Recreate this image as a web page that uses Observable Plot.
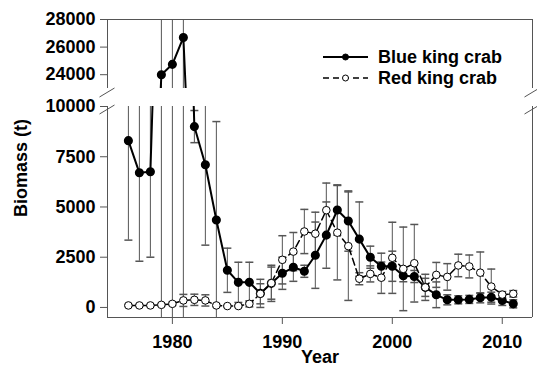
<!DOCTYPE html>
<html><head><meta charset="utf-8">
<script src="https://cdn.jsdelivr.net/npm/d3@7"></script>
<script src="https://cdn.jsdelivr.net/npm/@observablehq/plot@0.6"></script>
<style>
body{margin:0;background:#fff;}
#chart{position:relative;width:537px;height:368px;overflow:hidden;font-family:"Liberation Sans",Arial,sans-serif;}
#chart svg{position:absolute;left:0;overflow:visible;}
</style></head><body><div id="chart"></div>
<script>
const years = [1976,1977,1978,1979,1980,1981,1982,1983,1984,1985,1986,1987,1988,1989,1990,1991,1992,1993,1994,1995,1996,1997,1998,1999,2000,2001,2002,2003,2004,2005,2006,2007,2008,2009,2010,2011];
const blueBiomass = [8300,6700,6750,24000,24750,26700,9000,7100,4350,1850,1250,1250,700,1200,1700,2000,1800,2600,3600,4850,4300,3400,2500,2050,2050,1580,1540,1000,630,380,380,400,480,510,350,180];
const blueError = [4950,4400,4250,30000,30000,30000,800,4000,4900,1100,1000,1000,700,900,800,700,300,1650,1650,1250,1500,1850,550,650,750,300,300,650,640,250,200,200,250,250,250,200];
const redBiomass = [100,100,100,130,180,350,380,350,100,70,70,180,680,1210,2370,2780,3780,3670,4840,3720,3050,1430,1670,1480,2470,1920,2200,1000,1620,1520,2090,2040,1730,1040,640,680];
const redError = [50,50,50,60,80,300,280,280,60,50,50,150,500,800,1200,950,1100,1070,1350,2350,2700,300,400,780,1770,2080,1930,450,620,660,560,570,1030,870,150,160];
const seriesNames = ["Blue king crab", "Red king crab"];
const xTicks = [1980, 1990, 2000, 2010];
const upperTicks = [24000, 26000, 28000];
const lowerTicks = [0, 2500, 5000, 7500, 10000];
const xDomain = [1974.1, 2012.75];
const upperDomain = [23000, 28000];
const lowerDomain = [-500, 10000];

const blue = years.map((year, i) => ({year, series: seriesNames[0], value: blueBiomass[i], lo: blueBiomass[i] - blueError[i], hi: blueBiomass[i] + blueError[i]}));
const red = years.map((year, i) => ({year, series: seriesNames[1], value: redBiomass[i], lo: redBiomass[i] - redError[i], hi: redBiomass[i] + redError[i]}));
const rows = blue.concat(red);

const GRAY = "#555";
const FONT = '"Liberation Sans", Arial, sans-serif';
const capSymbol = {draw(ctx, size) { const w = Math.sqrt(size / Math.PI); ctx.moveTo(-w, 0); ctx.lineTo(w, 0); }};
const fmt = d => String(d);

const dataMarks = () => [
  Plot.ruleX(rows, {x: "year", y1: "lo", y2: "hi", stroke: GRAY, strokeWidth: 1, clip: true}),
  Plot.dot(rows, {x: "year", y: "lo", r: 4, symbol: capSymbol, stroke: GRAY, fill: "none", clip: true}),
  Plot.dot(rows, {x: "year", y: "hi", r: 4, symbol: capSymbol, stroke: GRAY, fill: "none", clip: true}),
  Plot.line(blue, {x: "year", y: "value", stroke: "black", strokeWidth: 2, clip: true}),
  Plot.dot(blue, {x: "year", y: "value", r: 3.8, fill: "black", stroke: "black", clip: true}),
  Plot.line(red, {x: "year", y: "value", stroke: "black", strokeWidth: 1.5, strokeDasharray: "7,4", clip: true}),
  Plot.dot(red, {x: "year", y: "value", r: 3.8, fill: "white", stroke: "black", strokeWidth: 1, clip: true})
];

const style = {fontSize: "18px", fontWeight: "bold", fontFamily: FONT, color: "black", background: "transparent"};

const topPlot = Plot.plot({
  width: 537, height: 100, marginLeft: 107, marginRight: 5, marginTop: 19, marginBottom: 12,
  style,
  x: {domain: xDomain, axis: null},
  y: {domain: upperDomain},
  marks: [
    Plot.axisY(upperTicks, {tickSize: 7, tickPadding: 5, tickFormat: fmt, label: null, stroke: GRAY, fill: "black"}),
    Plot.ruleX(xDomain, {stroke: GRAY}),
    Plot.ruleY([upperDomain[1]], {stroke: GRAY}),
    ...dataMarks()
  ]
});

const bottomPlot = Plot.plot({
  width: 537, height: 268, marginLeft: 107, marginRight: 5, marginTop: 6, marginBottom: 51,
  style,
  x: {domain: xDomain},
  y: {domain: lowerDomain},
  marks: [
    Plot.axisY(lowerTicks, {tickSize: 7, tickPadding: 5, tickFormat: fmt, label: null, stroke: GRAY, fill: "black"}),
    Plot.axisX(xTicks, {tickSize: 7, tickPadding: 11, tickFormat: fmt, label: null, stroke: GRAY, fill: "black"}),
    Plot.ruleX(xDomain, {stroke: GRAY}),
    Plot.ruleY([lowerDomain[0]], {stroke: GRAY}),
    Plot.text(["Year"], {text: d => d, frameAnchor: "bottom", lineAnchor: "middle", dy: 40, fill: "black"}),
    ...dataMarks()
  ]
});

const chart = document.getElementById("chart");
const BOTTOM_TOP = 100;
topPlot.style.top = "0px";
bottomPlot.style.top = BOTTOM_TOP + "px";
chart.appendChild(topPlot);
chart.appendChild(bottomPlot);

// overlay: axis title, legend, axis-break marks
const xr = topPlot.scale("x").range;
const topBottom = topPlot.scale("y").range[0];
const lowTop = BOTTOM_TOP + bottomPlot.scale("y").range[1];
const topAll = topPlot.scale("y").range[1];
const bottomAll = BOTTOM_TOP + bottomPlot.scale("y").range[0];

const svg = d3.select(chart).append("svg")
  .attr("width", 537).attr("height", 368)
  .style("top", "0px")
  .attr("font-family", FONT).attr("font-weight", "bold").attr("font-size", 18);

svg.append("text")
  .attr("transform", `translate(21,${(topAll + bottomAll) / 2}) rotate(-90)`)
  .attr("text-anchor", "middle").attr("dominant-baseline", "central")
  .text("Biomass (t)");

const brk = svg.append("g").attr("stroke", GRAY).attr("stroke-width", 1);
for (const x of xr) {
  for (const y of [topBottom + 4.5, lowTop + 3.5]) {
    brk.append("line").attr("x1", x - 7.5).attr("y1", y + 4.5).attr("x2", x + 7.5).attr("y2", y - 4.5);
  }
}

const legend = svg.append("g");
const legendItems = [
  {name: seriesNames[0], fill: "black", dash: null, y: 57},
  {name: seriesNames[1], fill: "white", dash: "6,4", y: 78}
];
for (const it of legendItems) {
  const g = legend.append("g").attr("transform", `translate(323,${it.y})`);
  g.append("line").attr("x1", 0).attr("x2", 45).attr("y1", 0).attr("y2", 0)
    .attr("stroke", "black").attr("stroke-width", it.dash ? 1.5 : 2).attr("stroke-dasharray", it.dash);
  g.append("circle").attr("cx", 22.5).attr("cy", 0).attr("r", 3).attr("fill", it.fill).attr("stroke", "black");
  g.append("text").attr("x", 55).attr("y", 0).attr("dominant-baseline", "central").text(it.name);
}
</script>
</body></html>
